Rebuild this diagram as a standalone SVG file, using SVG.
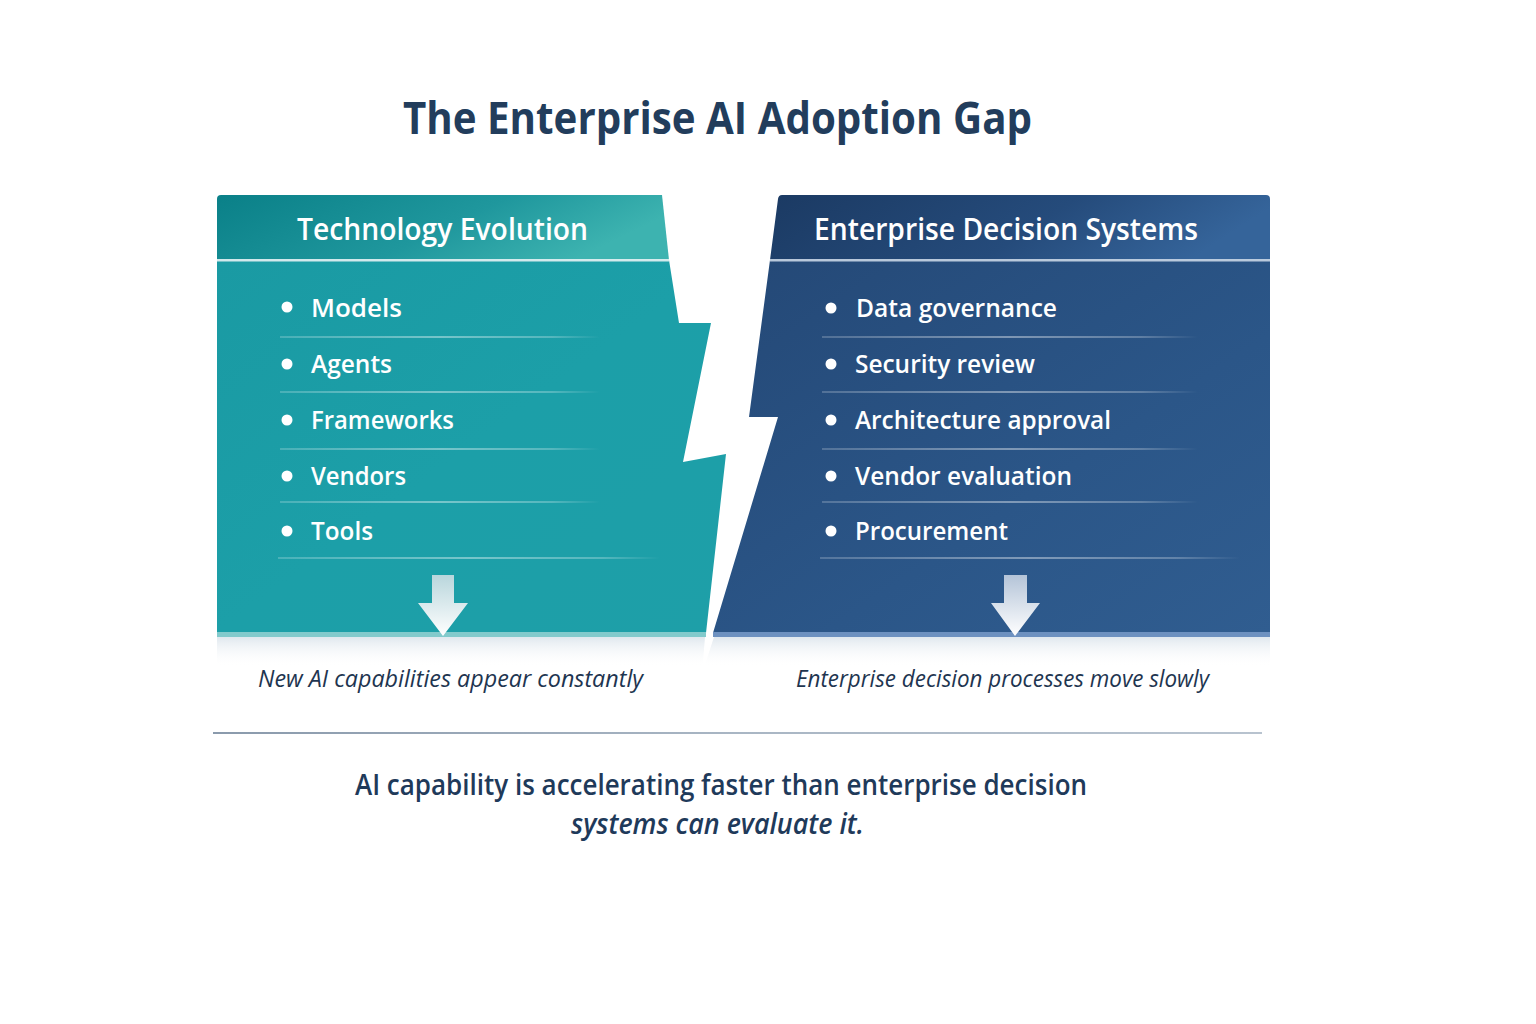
<svg xmlns="http://www.w3.org/2000/svg" width="1536" height="1024" viewBox="0 0 1536 1024">
<defs>
<linearGradient id="tealHead" x1="0" y1="0" x2="1" y2="0.3">
<stop offset="0" stop-color="#0a8088"/>
<stop offset="0.6" stop-color="#1f979d"/>
<stop offset="1" stop-color="#3db3b0"/>
</linearGradient>
<linearGradient id="tealBody" x1="0" y1="0" x2="1" y2="1">
<stop offset="0" stop-color="#1a9aa3"/>
<stop offset="0.5" stop-color="#1c9fa8"/>
<stop offset="1" stop-color="#1e9fa8"/>
</linearGradient>
<linearGradient id="blueHead" x1="0" y1="0" x2="1" y2="0.2">
<stop offset="0" stop-color="#1b3a63"/>
<stop offset="0.6" stop-color="#254b7b"/>
<stop offset="1" stop-color="#35649a"/>
</linearGradient>
<linearGradient id="blueBody" x1="0" y1="0" x2="1" y2="1">
<stop offset="0" stop-color="#244876"/>
<stop offset="0.6" stop-color="#2b5688"/>
<stop offset="1" stop-color="#305d90"/>
</linearGradient>
<linearGradient id="arrowFill" x1="0" y1="0" x2="0" y2="1">
<stop offset="0" stop-color="#b9d6dc"/>
<stop offset="1" stop-color="#ffffff"/>
</linearGradient>
<linearGradient id="arrowFill2" x1="0" y1="0" x2="0" y2="1">
<stop offset="0" stop-color="#b4c4d8"/>
<stop offset="1" stop-color="#ffffff"/>
</linearGradient>
<linearGradient id="shadow" x1="0" y1="0" x2="0" y2="1">
<stop offset="0" stop-color="#d8e2ea" stop-opacity="0.8"/>
<stop offset="1" stop-color="#ffffff" stop-opacity="0"/>
</linearGradient>
<linearGradient id="sepL" x1="0" y1="0" x2="1" y2="0">
<stop offset="0" stop-color="#ffffff" stop-opacity="0.2"/>
<stop offset="0.5" stop-color="#ffffff" stop-opacity="0.4"/>
<stop offset="0.85" stop-color="#ffffff" stop-opacity="0.25"/>
<stop offset="1" stop-color="#ffffff" stop-opacity="0"/>
</linearGradient>
<linearGradient id="divider" x1="0" y1="0" x2="1" y2="0">
<stop offset="0" stop-color="#8a9aac"/>
<stop offset="0.5" stop-color="#a9b6c4"/>
<stop offset="1" stop-color="#b8c3cf"/>
</linearGradient>
</defs>
<style>
.title{font-family:"Open Sans","Noto Sans","Liberation Sans",sans-serif;font-weight:700;fill:#223d5c;}
.head{font-family:"Open Sans","Noto Sans","Liberation Sans",sans-serif;font-weight:600;font-size:30px;fill:#ffffff;}
.item{font-family:"Open Sans","Noto Sans","Liberation Sans",sans-serif;font-weight:600;font-size:26px;fill:#ffffff;}
.cap{font-family:"Open Sans","Noto Sans","Liberation Sans",sans-serif;font-style:italic;font-size:24px;fill:#1e3550;}
.sum{font-family:"Open Sans","Noto Sans","Liberation Sans",sans-serif;font-weight:600;font-size:28px;fill:#1f3a5a;}
.dot{fill:#ffffff;}
.sep{fill:url(#sepL);}
</style>
<rect width="1536" height="1024" fill="#ffffff"/>

<g id="title">
<text class="title" x="403" y="134" font-size="44" textLength="629" lengthAdjust="spacingAndGlyphs">The Enterprise AI Adoption Gap</text>
</g>

<rect x="217" y="637" width="1053" height="30" fill="url(#shadow)"/>
<polygon points="705,637 714,637 702,674" fill="#ffffff"/>

<g id="tech-evolution">
<path d="M221,195 L662,195 L669,260 L217,260 L217,199 Q217,195 221,195 Z" fill="url(#tealHead)"/>
<path d="M217,260 L669,260 L679,323 L711,323 L683,462 L726,454 L706,633 L217,633 Z" fill="url(#tealBody)"/>
<rect x="217" y="632" width="489" height="5" fill="#82cacc"/>
<rect x="217" y="259" width="452" height="2.5" fill="#e6f2f4" opacity="0.9"/>
<text class="head" x="297" y="240" textLength="291" lengthAdjust="spacingAndGlyphs">Technology Evolution</text>
<circle class="dot" cx="287" cy="307" r="5.5"/>
<text class="item" x="311" y="317" textLength="91" lengthAdjust="spacingAndGlyphs">Models</text>
<rect class="sep" x="280" y="336" width="320" height="2"/>
<circle class="dot" cx="287" cy="364" r="5.5"/>
<text class="item" x="311" y="373" textLength="81" lengthAdjust="spacingAndGlyphs">Agents</text>
<rect class="sep" x="280" y="391" width="320" height="2"/>
<circle class="dot" cx="287" cy="420" r="5.5"/>
<text class="item" x="311" y="429" textLength="143" lengthAdjust="spacingAndGlyphs">Frameworks</text>
<rect class="sep" x="280" y="448" width="320" height="2"/>
<circle class="dot" cx="287" cy="476" r="5.5"/>
<text class="item" x="311" y="485" textLength="95" lengthAdjust="spacingAndGlyphs">Vendors</text>
<rect class="sep" x="280" y="501" width="320" height="2"/>
<circle class="dot" cx="287" cy="531" r="5.5"/>
<text class="item" x="311" y="540" textLength="62" lengthAdjust="spacingAndGlyphs">Tools</text>
<rect class="sep" x="278" y="557" width="382" height="2"/>
</g>

<g id="enterprise-decision">
<path d="M782,195 L1266,195 Q1270,195 1270,199 L1270,260 L770,260 L778,199 Q778.5,195 782,195 Z" fill="url(#blueHead)"/>
<path d="M770,260 L1270,260 L1270,633 L713,633 L778,417 L749,417 Z" fill="url(#blueBody)"/>
<rect x="713" y="632" width="557" height="5" fill="#6d91c0"/>
<rect x="770" y="259" width="500" height="2.5" fill="#c9d6e6" opacity="0.9"/>
<text class="head" x="814" y="240" textLength="384" lengthAdjust="spacingAndGlyphs">Enterprise Decision Systems</text>
<circle class="dot" cx="831" cy="308" r="5.5"/>
<text class="item" x="856" y="317" textLength="201" lengthAdjust="spacingAndGlyphs">Data governance</text>
<rect class="sep" x="822" y="336" width="376" height="2"/>
<circle class="dot" cx="831" cy="364" r="5.5"/>
<text class="item" x="855" y="373" textLength="180" lengthAdjust="spacingAndGlyphs">Security review</text>
<rect class="sep" x="822" y="391" width="376" height="2"/>
<circle class="dot" cx="831" cy="420" r="5.5"/>
<text class="item" x="855" y="429" textLength="256" lengthAdjust="spacingAndGlyphs">Architecture approval</text>
<rect class="sep" x="822" y="448" width="376" height="2"/>
<circle class="dot" cx="831" cy="476" r="5.5"/>
<text class="item" x="855" y="485" textLength="217" lengthAdjust="spacingAndGlyphs">Vendor evaluation</text>
<rect class="sep" x="822" y="501" width="376" height="2"/>
<circle class="dot" cx="831" cy="531" r="5.5"/>
<text class="item" x="855" y="540" textLength="153" lengthAdjust="spacingAndGlyphs">Procurement</text>
<rect class="sep" x="820" y="557" width="420" height="2"/>
</g>

<g id="connectors">
<polygon points="432,575 454,575 454,603 468,603 443,636 418,603 432,603" fill="url(#arrowFill)"/>
<polygon points="1004,575 1027,575 1027,603 1040,603 1015,636 991,603 1004,603" fill="url(#arrowFill2)"/>
</g>

<g id="captions">
<text class="cap" x="258" y="687" textLength="385" lengthAdjust="spacingAndGlyphs">New AI capabilities appear constantly</text>
<text class="cap" x="796" y="687" textLength="413" lengthAdjust="spacingAndGlyphs">Enterprise decision processes move slowly</text>
</g>

<rect x="213" y="732" width="1049" height="2" fill="url(#divider)"/>

<g id="summary">
<text class="sum" x="355" y="795" textLength="732" lengthAdjust="spacingAndGlyphs">AI capability is accelerating faster than enterprise decision</text>
<text class="sum" x="571" y="834" font-style="italic" font-weight="500" textLength="293" lengthAdjust="spacingAndGlyphs">systems can evaluate it.</text>
</g>
</svg>
